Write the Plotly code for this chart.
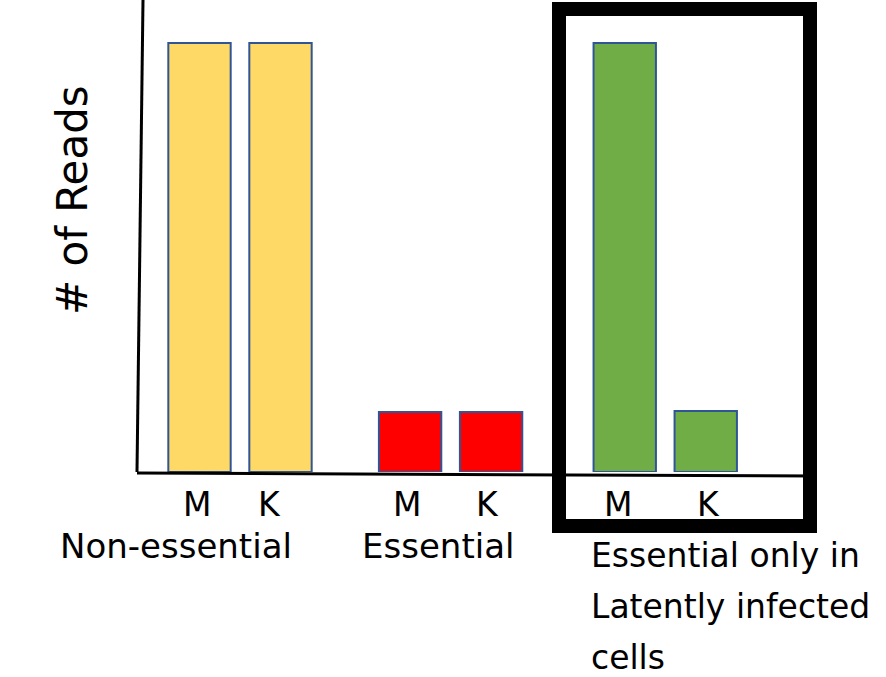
import plotly.graph_objects as go

# ---- data ----
groups = ["Non-essential", "Essential"]
latent_lines = ["Essential only in", "Latently infected", "cells"]
bar_labels = ["M", "K"]
reads_M = [100, 14, 100]
reads_K = [100, 14, 14.2]
colors = ["#FFD966", "#FF0000", "#70AD47"]

# ---- layout helpers ----
W, H = 886, 677
L, R, T, B = 137, 71, 0, 205
group_start = [0.0, 2.6, 5.25]
bar_step = 1.0
bar_width = 0.77
FONT = "'DejaVu Sans', sans-serif"

fig = go.Figure()
xs, ys, cs = [], [], []
for g in range(3):
    for i, vals in enumerate([reads_M, reads_K]):
        xs.append(group_start[g] + i * bar_step)
        ys.append(vals[g])
        cs.append(colors[g])

fig.add_trace(go.Bar(
    x=xs, y=ys, width=bar_width,
    marker=dict(color=cs, line=dict(color="#2F5597", width=2)),
    showlegend=False, hoverinfo="skip",
))

ann = []
label_shift = [[-3, -11], [-3, -4], [-7, 3]]
for g in range(3):
    for i in range(2):
        ann.append(dict(
            x=group_start[g] + i * bar_step, y=0, xref="x", yref="y",
            text=bar_labels[i], showarrow=False, yanchor="middle", yshift=-32,
            xshift=label_shift[g][i],
            font=dict(family=FONT, size=33, color="black"),
        ))
ann.append(dict(x=group_start[0] + 0.5, y=0, xref="x", yref="y", text=groups[0],
                showarrow=False, yanchor="middle", yshift=-74, xshift=-64,
                font=dict(family=FONT, size=34, color="black")))
ann.append(dict(x=group_start[1] + 0.5, y=0, xref="x", yref="y", text=groups[1],
                showarrow=False, yanchor="middle", yshift=-74, xshift=-13,
                font=dict(family=FONT, size=34, color="black")))
for k, line in enumerate(latent_lines):
    ann.append(dict(x=group_start[2], y=0, xref="x", yref="y", text=line,
                    showarrow=False, yanchor="top", xanchor="left", align="left",
                    yshift=-62 - 51 * k, xshift=-36,
                    font=dict(family=FONT, size=33, color="black")))
ann.append(dict(x=-0.0959, y=0.576, xref="paper", yref="paper", text="# of Reads",
                showarrow=False, textangle=-90, xanchor="center", yanchor="middle",
                font=dict(family=FONT, size=42, color="black")))

pw = W - L - R
ph = H - T - B
def px(xp):
    return (xp - L) / pw
def py(yp):
    return 1 - (yp - T) / ph

shapes = [
    dict(type="line", xref="paper", yref="paper", x0=px(143), y0=py(0), x1=px(137), y1=py(472),
         line=dict(color="black", width=3)),
    dict(type="line", xref="paper", yref="paper", x0=px(137), y0=py(473), x1=px(817), y1=py(476),
         line=dict(color="black", width=3)),
    dict(type="rect", xref="paper", yref="paper", x0=px(559), y0=py(9), x1=px(810), y1=py(526),
         line=dict(color="black", width=14), fillcolor="rgba(0,0,0,0)"),
]

fig.update_layout(
    width=W, height=H,
    margin=dict(l=L, r=R, t=T, b=B, pad=0),
    paper_bgcolor="white", plot_bgcolor="white",
    xaxis=dict(range=[-0.7716, 7.5988], visible=False, fixedrange=True),
    yaxis=dict(range=[0, 110], visible=False, fixedrange=True),
    annotations=ann, shapes=shapes, bargap=0,
)
fig.write_html("out.html", config={"displayModeBar": False, "staticPlot": True},
               post_script="document.body.style.margin='0';document.body.style.overflow='hidden';")
